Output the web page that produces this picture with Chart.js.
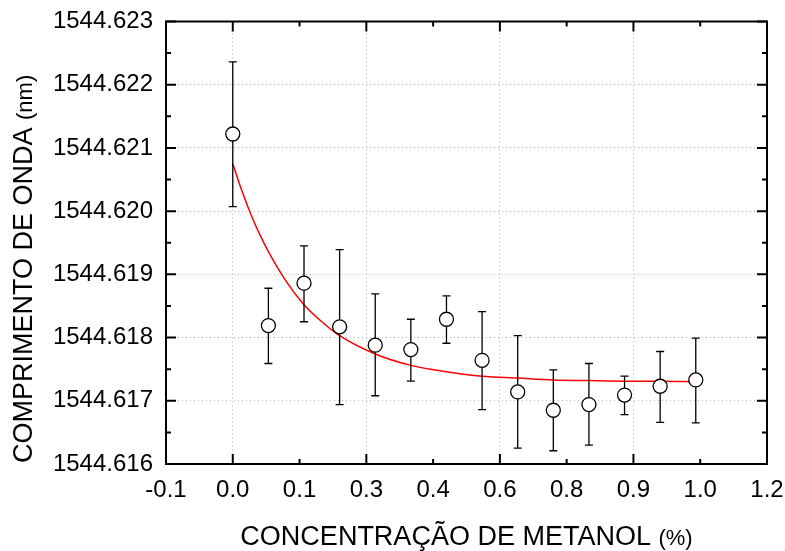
<!DOCTYPE html>
<html>
<head>
<meta charset="utf-8">
<script src="https://cdn.jsdelivr.net/npm/chart.js@4/dist/chart.umd.min.js"></script>
<style>
  html, body { margin: 0; padding: 0; background: #fff; }
  #wrap { width: 785px; height: 551px; }
</style>
</head>
<body>
<div id="wrap"><canvas id="chart" width="785" height="551"></canvas></div>
<script>
// measured points (x = methanol concentration, y = wavelength in nm)
const concentration = [0, 0.08, 0.16, 0.24, 0.32, 0.40, 0.48, 0.56, 0.64, 0.72, 0.80, 0.88, 0.96, 1.04];
const wavelength = [1544.62122, 1544.61819, 1544.61886, 1544.61817, 1544.61788, 1544.61781, 1544.61829,
  1544.61764, 1544.61714, 1544.61685, 1544.61694, 1544.61709, 1544.61723, 1544.61733];
const barTop = [1544.62236, 1544.61878, 1544.61945, 1544.61939, 1544.61869, 1544.61829, 1544.61866,
  1544.61841, 1544.61803, 1544.61749, 1544.61759, 1544.61739, 1544.61778, 1544.61799];
const barBottom = [1544.62007, 1544.61759, 1544.61825, 1544.61694, 1544.61708, 1544.61731, 1544.61791,
  1544.61686, 1544.61625, 1544.61621, 1544.61630, 1544.61678, 1544.61666, 1544.61665];

// red fitted curve
const fitX = [0, 0.02, 0.04, 0.06, 0.08, 0.12, 0.16, 0.20, 0.24, 0.32, 0.40, 0.48, 0.56, 0.64, 0.72, 0.80, 0.88, 0.96, 1.04];
const fitY = [1544.62075, 1544.62033, 1544.61996, 1544.61964, 1544.61936, 1544.61889, 1544.61852, 1544.61825,
  1544.61803, 1544.61774, 1544.61756, 1544.61746, 1544.61739, 1544.61736, 1544.61733, 1544.61732,
  1544.61731, 1544.61731, 1544.61730];

const xTickLabels = ['-0.1', '0.0', '0.1', '0.3', '0.4', '0.6', '0.8', '0.9', '1.0', '1.2'];
const xTitle = ['CONCENTRAÇÃO DE METANOL', '(%)'];
const yTitle = ['COMPRIMENTO DE ONDA', '(nm)'];

const FONT = '"Liberation Sans", Arial, sans-serif';
const GRID = '#b4b4b4';

const errorBars = {
  id: 'errorBars',
  beforeDatasetDraw(chart, args) {
    if (args.index !== 0) return;
    const { ctx, scales: { x, y } } = chart;
    ctx.save();
    ctx.strokeStyle = '#000';
    ctx.lineWidth = 1.3;
    ctx.beginPath();
    concentration.forEach((c, i) => {
      const px = x.getPixelForValue(c);
      const top = y.getPixelForValue(barTop[i]);
      const bottom = y.getPixelForValue(barBottom[i]);
      ctx.moveTo(px, top); ctx.lineTo(px, bottom);
      ctx.moveTo(px - 4, top); ctx.lineTo(px + 4, top);
      ctx.moveTo(px - 4, bottom); ctx.lineTo(px + 4, bottom);
    });
    ctx.stroke();
    ctx.restore();
  }
};

const frameAndTicks = {
  id: 'frameAndTicks',
  afterDatasetsDraw(chart) {
    const { ctx, chartArea: a, scales: { x, y } } = chart;
    ctx.save();
    ctx.strokeStyle = '#000';
    ctx.lineWidth = 2;
    ctx.beginPath();
    x.ticks.forEach((t, i) => {
      const px = x.getPixelForValue(t.value);
      const len = i % 2 === 1 ? 10 : 5;
      ctx.moveTo(px, a.bottom); ctx.lineTo(px, a.bottom - len);
      ctx.moveTo(px, a.top); ctx.lineTo(px, a.top + len);
    });
    y.ticks.forEach((t, i) => {
      const py = y.getPixelForValue(t.value);
      ctx.moveTo(a.left, py); ctx.lineTo(a.left + 10, py);
      ctx.moveTo(a.right, py); ctx.lineTo(a.right - 10, py);
      if (i > 0) {
        const mid = (py + y.getPixelForValue(y.ticks[i - 1].value)) / 2;
        ctx.moveTo(a.left, mid); ctx.lineTo(a.left + 5, mid);
        ctx.moveTo(a.right, mid); ctx.lineTo(a.right - 5, mid);
      }
    });
    ctx.stroke();
    ctx.strokeRect(a.left, a.top, a.right - a.left, a.bottom - a.top);
    ctx.restore();
  }
};

const axisTitles = {
  id: 'axisTitles',
  afterDraw(chart) {
    const { ctx, chartArea: a } = chart;
    ctx.save();
    ctx.fillStyle = '#000';
    ctx.textAlign = 'left';
    ctx.textBaseline = 'alphabetic';

    ctx.font = '27px ' + FONT;
    const w1 = ctx.measureText(xTitle[0] + ' ').width;
    ctx.font = '22px ' + FONT;
    const w2 = ctx.measureText(xTitle[1]).width;
    const sx = (a.left + a.right) / 2 - (w1 + w2) / 2;
    ctx.font = '27px ' + FONT;
    ctx.fillText(xTitle[0], sx, 545);
    ctx.font = '22px ' + FONT;
    ctx.fillText(xTitle[1], sx + w1, 545);

    ctx.translate(32, a.bottom - 1);
    ctx.rotate(-Math.PI / 2);
    ctx.font = '27px ' + FONT;
    const v1 = ctx.measureText(yTitle[0] + ' ').width;
    ctx.fillText(yTitle[0], 0, 0);
    ctx.font = '22px ' + FONT;
    ctx.fillText(yTitle[1], v1, 0);
    ctx.restore();
  }
};

new Chart(document.getElementById('chart'), {
  type: 'scatter',
  data: {
    datasets: [
      {
        data: concentration.map((c, i) => ({ x: c, y: wavelength[i] })),
        pointRadius: 7,
        pointHoverRadius: 7,
        pointBackgroundColor: '#fff',
        pointBorderColor: '#000',
        pointBorderWidth: 1.3,
        order: 0,
      },
      {
        data: fitX.map((c, i) => ({ x: c, y: fitY[i] })),
        showLine: true,
        pointRadius: 0,
        borderColor: '#ff0000',
        borderWidth: 1.5,
        cubicInterpolationMode: 'monotone',
        order: 1,
      },
    ],
  },
  options: {
    responsive: false,
    devicePixelRatio: 1,
    animation: false,
    layout: { padding: { left: 0, right: 18, top: 21.5, bottom: 0 } },
    plugins: { legend: { display: false }, tooltip: { enabled: false } },
    scales: {
      x: {
        type: 'linear',
        min: -0.15,
        max: 1.2,
        afterFit: s => { s.height = 87; s.paddingLeft = 0; s.paddingRight = 0; },
        border: { display: false, dash: [1, 3] },
        grid: {
          drawTicks: false,
          color: c => (c.index % 2 === 1 ? GRID : 'rgba(0,0,0,0)'),
          lineWidth: 1,
        },
        ticks: {
          stepSize: 0.15,
          padding: 12,
          color: '#000',
          font: { family: FONT, size: 24 },
          callback: (v, i) => xTickLabels[i],
        },
      },
      y: {
        type: 'linear',
        min: 1544.616,
        max: 1544.623,
        afterFit: s => { s.width = 166; s.paddingTop = 0; s.paddingBottom = 0; },
        border: { display: false, dash: [1, 3] },
        grid: { drawTicks: false, color: GRID, lineWidth: 1 },
        ticks: {
          stepSize: 0.001,
          padding: 13,
          color: '#000',
          font: { family: FONT, size: 24 },
          callback: v => v.toFixed(3),
        },
      },
    },
  },
  plugins: [errorBars, frameAndTicks, axisTitles],
});
</script>
</body>
</html>
